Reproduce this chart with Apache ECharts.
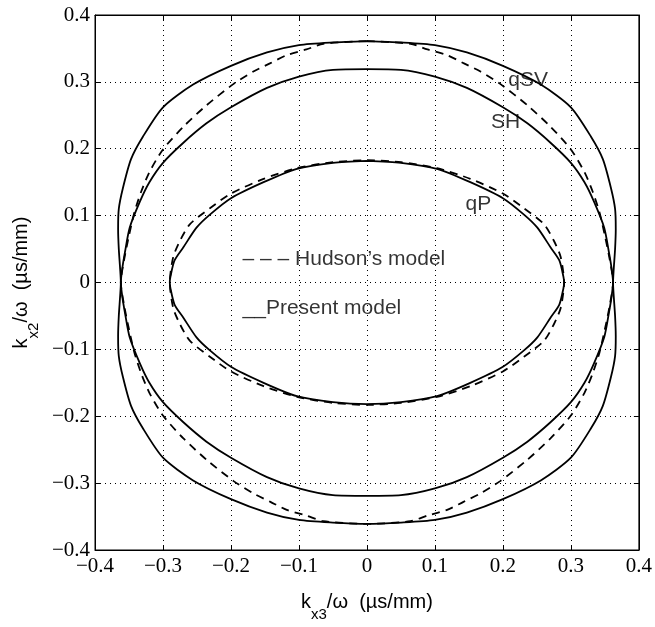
<!DOCTYPE html>
<html>
<head>
<meta charset="utf-8">
<script src="https://cdn.jsdelivr.net/npm/echarts@6/dist/echarts.min.js"></script>
<style>
html,body{margin:0;padding:0;background:#fff;}
#chart{width:655px;height:627px;}
</style>
</head>
<body>
<div id="chart"></div>
<script>
// First-quadrant points (x = kx3/ω, y = kx2/ω); curves are symmetric about both axes.
const qSV_present_q1 = [[0,0.361],[0.05,0.359],[0.1,0.355],[0.147,0.344],[0.2,0.324],[0.2557,0.296],[0.3,0.262],[0.3296,0.218],[0.347,0.1845],[0.359,0.141],[0.365,0.11],[0.366,0.08],[0.365,0.05],[0.363,0.02],[0.362,0]];
const SH_present_q1 = [[0,0.319],[0.05,0.318],[0.1,0.308],[0.147,0.291],[0.2,0.262],[0.236,0.238],[0.27,0.209],[0.3,0.179],[0.32,0.15],[0.334,0.121],[0.349,0.082],[0.356,0.045],[0.36,0.02],[0.362,0]];
const qSV_hudson_q1 = [[0,0.361],[0.064,0.357],[0.089,0.3485],[0.118,0.34],[0.142,0.328],[0.167,0.3155],[0.196,0.297],[0.236,0.265],[0.27,0.233],[0.3,0.199],[0.32,0.165],[0.332,0.136],[0.342,0.105],[0.35,0.07],[0.357,0.035],[0.362,0]];
const qP_present_q1 = [[0,0.182],[0.05,0.179],[0.103,0.17],[0.152,0.15],[0.2,0.126],[0.231,0.1015],[0.2507,0.082],[0.27,0.0527],[0.283,0.033],[0.289,0.0088],[0.29,0]];
const qP_hudson_q1 = [[0,0.183],[0.05,0.18],[0.103,0.171],[0.152,0.155],[0.2,0.133],[0.231,0.111],[0.2606,0.087],[0.275,0.0624],[0.285,0.038],[0.29,0]];

const xTicks = [-0.4,-0.3,-0.2,-0.1,0,0.1,0.2,0.3,0.4];
const yTicks = [-0.4,-0.3,-0.2,-0.1,0,0.1,0.2,0.3,0.4];

const annotations = [
  {name:'qSV', value:[0.237,0.303]},
  {name:'SH', value:[0.204,0.240]},
  {name:'qP', value:[0.164,0.117]}
];
const legendTexts = [
  {name:'– – – Hudson’s model', value:[-0.183,0.035]},
  {name:'__Present model', value:[-0.183,-0.038]}
];

function closeCurve(q1){
  const q4 = q1.slice().reverse().map(p=>[p[0],-p[1]]);
  const q3 = q1.map(p=>[-p[0],-p[1]]);
  const q2 = q1.slice().reverse().map(p=>[-p[0],p[1]]);
  return q1.concat(q4.slice(1), q3.slice(1), q2.slice(1));
}

const chart = echarts.init(document.getElementById('chart'), null, {renderer:'canvas'});
const fmt = v => { const t = Math.abs(v) < 1e-9 ? '0' : v.toFixed(1); return t.replace('-', '−'); };
const serif = 'Liberation Serif';
const sans = 'Liberation Sans';

const solid = {color:'#000', width:1.8, type:'solid'};
const dashed = {color:'#000', width:1.8, type:[8,6]};
function lineSeries(data, style){
  return {type:'line', data:closeCurve(data), showSymbol:false, symbol:'none', smooth:0.25, lineStyle:style, silent:true, animation:false, z:3};
}

chart.setOption({
  animation:false,
  grid:{left:95, right:14, top:15, bottom:65, show:true, borderColor:'#000', borderWidth:1, backgroundColor:'#fff'},
  xAxis:[{
    type:'value', min:xTicks[0], max:xTicks[xTicks.length-1], interval:0.1, position:'bottom',
    axisLine:{show:true, onZero:false, lineStyle:{color:'#000', width:1}},
    axisTick:{show:true, inside:true, length:5, lineStyle:{color:'#000'}},
    axisLabel:{formatter:fmt, fontFamily:serif, fontSize:21, color:'#000', margin:6},
    splitLine:{show:true, lineStyle:{color:'#000', width:1, type:[1,4]}},
    name:'{a|k}{s|x3}{a|/ω  (µs/mm)}', nameLocation:'middle', nameGap:38,
    nameTextStyle:{rich:{
      a:{fontFamily:sans, fontSize:20, color:'#000', lineHeight:24, verticalAlign:'bottom'},
      s:{fontFamily:sans, fontSize:15, color:'#000', lineHeight:24, verticalAlign:'bottom', padding:[0,0,-10,0]}
    }}
  },{
    type:'value', min:xTicks[0], max:xTicks[xTicks.length-1], interval:0.1, position:'top',
    axisLine:{show:true, onZero:false, lineStyle:{color:'#000', width:1}},
    axisTick:{show:true, inside:true, length:5, lineStyle:{color:'#000'}},
    axisLabel:{show:false}, splitLine:{show:false}
  }],
  yAxis:[{
    type:'value', min:yTicks[0], max:yTicks[yTicks.length-1], interval:0.1, position:'left',
    axisLine:{show:true, onZero:false, lineStyle:{color:'#000', width:1}},
    axisTick:{show:true, inside:true, length:5, lineStyle:{color:'#000'}},
    axisLabel:{formatter:fmt, fontFamily:serif, fontSize:21, color:'#000', margin:5},
    splitLine:{show:true, lineStyle:{color:'#000', width:1, type:[1,4]}},
    name:'{a|k}{s|x2}{a|/ω  (µs/mm)}', nameLocation:'middle', nameGap:62, nameRotate:90,
    nameTextStyle:{rich:{
      a:{fontFamily:sans, fontSize:20, color:'#000', lineHeight:24, verticalAlign:'bottom'},
      s:{fontFamily:sans, fontSize:15, color:'#000', lineHeight:24, verticalAlign:'bottom', padding:[0,0,-10,0]}
    }}
  },{
    type:'value', min:yTicks[0], max:yTicks[yTicks.length-1], interval:0.1, position:'right',
    axisLine:{show:true, onZero:false, lineStyle:{color:'#000', width:1}},
    axisTick:{show:true, inside:true, length:5, lineStyle:{color:'#000'}},
    axisLabel:{show:false}, splitLine:{show:false}
  }],
  series:[
    lineSeries(qSV_present_q1, solid),
    lineSeries(SH_present_q1, solid),
    lineSeries(qSV_hudson_q1, dashed),
    lineSeries(qP_present_q1, solid),
    lineSeries(qP_hudson_q1, dashed),
    {type:'scatter', data:annotations, symbolSize:0, silent:true, z:5,
     label:{show:true, formatter:'{b}', position:'inside', fontFamily:sans, fontSize:21, color:'#000'}},
    {type:'scatter', data:legendTexts, symbolSize:0, silent:true, z:5,
     label:{show:true, formatter:'{b}', position:'right', distance:0, fontFamily:sans, fontSize:21, color:'#000'}}
  ]
});
</script>
</body>
</html>
